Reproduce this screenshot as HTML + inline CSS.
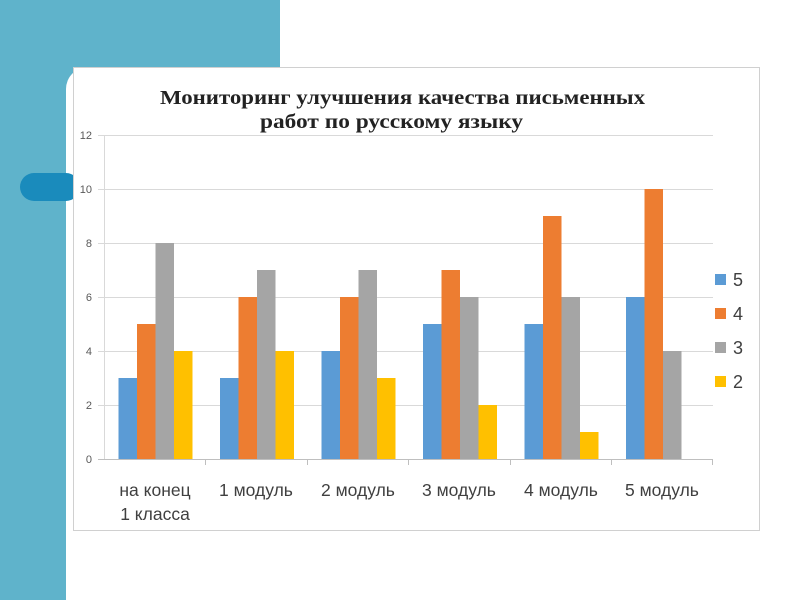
<!DOCTYPE html>
<html><head><meta charset="utf-8"><style>
body{margin:0;width:800px;height:600px;background:#fff;position:relative;overflow:hidden;font-family:"Liberation Sans",sans-serif}
.t1{position:absolute;left:0;top:0;width:280px;height:67px;background:#5fb3cb}
.t2{position:absolute;left:0;top:0;width:66px;height:600px;background:#5fb3cb}
.corner{position:absolute;left:66px;top:67px;width:30px;height:30px;background:#fff;border-top-left-radius:22px}
.c2{position:absolute;left:66px;top:67px;width:30px;height:30px;background:#5fb3cb}
.pill{position:absolute;left:20px;top:173px;width:60px;height:28px;background:#1a8bbc;border-radius:14px}
</style></head><body>
<div class="t1"></div><div class="t2"></div><div class="c2"></div><div class="corner"></div>
<div class="pill"></div>
<svg width="800" height="600" style="position:absolute;left:0;top:0">
<rect x="73.5" y="67.5" width="686" height="463" fill="#fff" stroke="#d0d0d0"/>
<text x="160" y="104" textLength="485" lengthAdjust="spacingAndGlyphs" font-family="Liberation Serif" font-weight="bold" font-size="20" fill="#222">Мониторинг улучшения качества письменных</text>
<text x="260" y="128" textLength="263" lengthAdjust="spacingAndGlyphs" font-family="Liberation Serif" font-weight="bold" font-size="20" fill="#222">работ по русскому языку</text>
<g stroke="#d9d9d9" stroke-width="1">
<line x1="98" x2="713" y1="135.5" y2="135.5"/><line x1="98" x2="713" y1="189.5" y2="189.5"/><line x1="98" x2="713" y1="243.5" y2="243.5"/><line x1="98" x2="713" y1="297.5" y2="297.5"/><line x1="98" x2="713" y1="351.5" y2="351.5"/><line x1="98" x2="713" y1="405.5" y2="405.5"/>
<line x1="104.5" x2="104.5" y1="135" y2="459"/>
</g>
<g stroke="#bfbfbf"><line x1="98" x2="713" y1="459.5" y2="459.5"/>
<line x1="205.5" x2="205.5" y1="459" y2="465"/><line x1="307.5" x2="307.5" y1="459" y2="465"/><line x1="408.5" x2="408.5" y1="459" y2="465"/><line x1="510.5" x2="510.5" y1="459" y2="465"/><line x1="611.5" x2="611.5" y1="459" y2="465"/><line x1="712.5" x2="712.5" y1="459" y2="465"/></g>
<g font-size="11" fill="#595959" text-anchor="end">
<text x="92" y="139">12</text><text x="92" y="193">10</text><text x="92" y="247">8</text><text x="92" y="301">6</text><text x="92" y="355">4</text><text x="92" y="409">2</text><text x="92" y="463">0</text></g>
<g id="bars"></g>
<g font-size="17.5" fill="#404040" text-anchor="middle">
<text x="155" y="496">на конец</text><text x="155" y="520">1 класса</text>
<text x="256" y="496">1 модуль</text><text x="358" y="496">2 модуль</text><text x="459" y="496">3 модуль</text><text x="561" y="496">4 модуль</text><text x="662" y="496">5 модуль</text></g>
<rect x="715" y="274" width="11" height="11" fill="#5b9bd5"/><rect x="715" y="308" width="11" height="11" fill="#ed7d31"/><rect x="715" y="342" width="11" height="11" fill="#a5a5a5"/><rect x="715" y="376" width="11" height="11" fill="#ffc000"/>
<g font-size="18" fill="#404040"><text x="733" y="286">5</text><text x="733" y="320">4</text><text x="733" y="354">3</text><text x="733" y="388">2</text></g>
</svg>
<script>
var d=[[3,5,8,4],[3,6,7,4],[4,6,7,3],[5,7,6,2],[5,9,6,1],[6,10,4,0]],c=["#5b9bd5","#ed7d31","#a5a5a5","#ffc000"],s="";
d.forEach(function(r,i){r.forEach(function(v,j){if(!v)return;var x=104+i*101.5+14.5+j*18.5,h=v*27;s+='<rect x="'+x+'" y="'+(459-h)+'" width="18.5" height="'+h+'" fill="'+c[j]+'"/>';});});
document.getElementById("bars").innerHTML=s;
</script>
</body></html>
